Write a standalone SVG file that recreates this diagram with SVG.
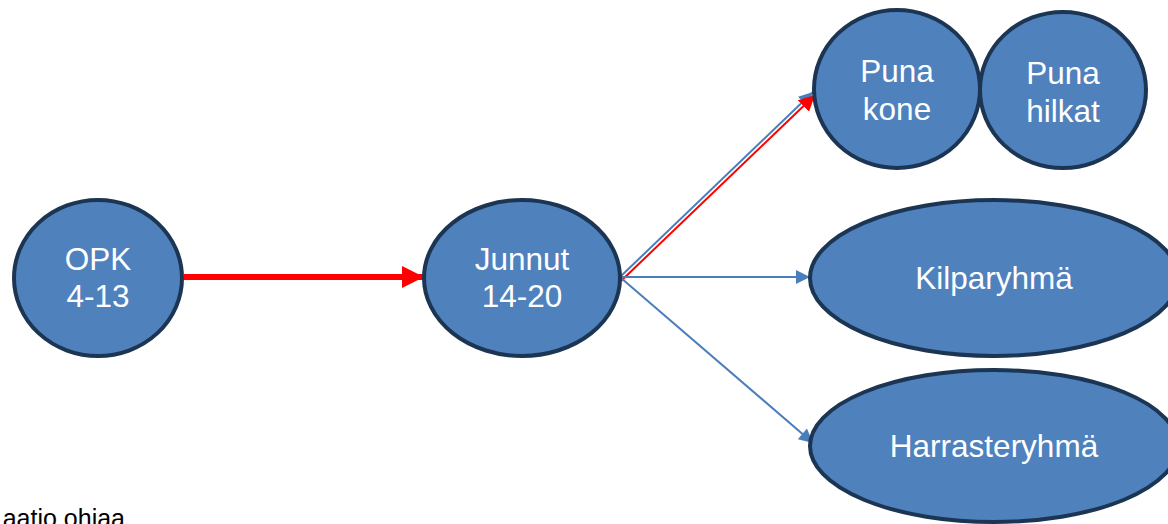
<svg xmlns="http://www.w3.org/2000/svg" width="1168" height="524" viewBox="0 0 1168 524">
<style>
.node{fill:#4F81BD;stroke:#1B3553;stroke-width:4}
.lbl{fill:#FFFFFF;font-family:"Liberation Sans",Arial,sans-serif;font-size:31.5px;text-anchor:middle}
.blue{stroke:#4A7EBB;stroke-width:2;fill:none}
.red{stroke:#FF0000;stroke-width:2;fill:none}
</style>
<defs>
<marker id="ab" viewBox="0 0 10 10" refX="10" refY="5" markerUnits="userSpaceOnUse" markerWidth="16" markerHeight="14" orient="auto"><path d="M0,0 L10,5 L0,10 Z" fill="#4A7EBB"/></marker>
<marker id="ar" viewBox="0 0 10 10" refX="10" refY="5" markerUnits="userSpaceOnUse" markerWidth="16" markerHeight="16" orient="auto"><path d="M0,0 L10,5 L0,10 Z" fill="#FF0000"/></marker>
<marker id="arBig" viewBox="0 0 10 10" refX="10" refY="5" markerUnits="userSpaceOnUse" markerWidth="22" markerHeight="24" orient="auto"><path d="M0,0 L10,5 L0,10 Z" fill="#FF0000"/></marker>
</defs>
<g id="connectors">
<line x1="184" y1="277" x2="424" y2="277" stroke="#FF0000" stroke-width="6" marker-end="url(#arBig)"/>
<line class="blue" x1="620" y1="277" x2="813" y2="92" marker-end="url(#ab)"/>
<line class="red" x1="621" y1="281" x2="815" y2="95" marker-end="url(#ar)"/>
<line class="blue" x1="621" y1="277" x2="810" y2="277" marker-end="url(#ab)"/>
<line class="blue" x1="621" y1="278" x2="813" y2="443" marker-end="url(#ab)"/>
</g>
<g id="opk">
<ellipse class="node" cx="98" cy="278" rx="84" ry="78"/>
<text class="lbl" x="98" y="270">OPK</text>
<text class="lbl" x="98" y="307">4-13</text>
</g>
<g id="junnut">
<ellipse class="node" cx="522" cy="278" rx="98" ry="78"/>
<text class="lbl" x="522" y="270">Junnut</text>
<text class="lbl" x="522" y="307">14-20</text>
</g>
<g id="punakone">
<ellipse class="node" cx="897" cy="89" rx="83" ry="79"/>
<text class="lbl" x="897" y="82">Puna</text>
<text class="lbl" x="897" y="120">kone</text>
</g>
<g id="punahilkat">
<ellipse class="node" cx="1063" cy="90" rx="83" ry="78"/>
<text class="lbl" x="1063" y="84">Puna</text>
<text class="lbl" x="1063" y="122">hilkat</text>
</g>
<g id="kilparyhma">
<ellipse class="node" cx="994" cy="278" rx="184" ry="78"/>
<text class="lbl" x="994" y="289">Kilparyhmä</text>
</g>
<g id="harrasteryhma">
<ellipse class="node" cx="994" cy="446" rx="184" ry="76"/>
<text class="lbl" x="994" y="457">Harrasteryhmä</text>
</g>
<text x="125" y="527" font-family="'Liberation Sans',Arial,sans-serif" font-size="25" fill="#000000" text-anchor="end">aatio ohjaa</text>
</svg>
